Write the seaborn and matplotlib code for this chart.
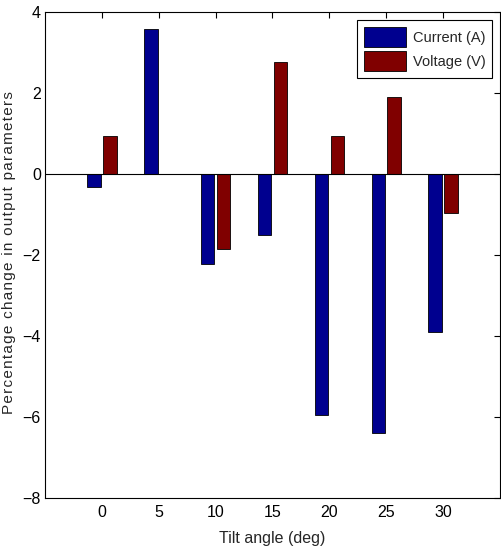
import numpy as np
import pandas as pd
import matplotlib
matplotlib.use("Agg")
import matplotlib.pyplot as plt
import seaborn as sns
from matplotlib.patches import Patch

# ------------------------------
# Data
# ------------------------------
tilt_angles = [0, 5, 10, 15, 20, 25, 30]
current_change = [-0.31, 3.58, -2.21, -1.51, -5.96, -6.39, -3.90]
voltage_change = [0.95, 0.01, -1.86, 2.77, 0.95, 1.90, -0.95]
series_names = ["Current (A)", "Voltage (V)"]
series_colors = ["#00008f", "#800000"]

df = pd.DataFrame({
    "Tilt": tilt_angles * 2,
    "Change": current_change + voltage_change,
    "Series": [series_names[0]] * len(tilt_angles) + [series_names[1]] * len(tilt_angles),
})

sns.set_style("white")
plt.rcParams["font.family"] = ["Liberation Sans", "DejaVu Sans"]

fig = plt.figure(figsize=(5.01, 5.53), dpi=100)
ax = fig.add_axes([0.0898, 0.0995, 0.9082, 0.8785])

sns.barplot(data=df, x="Tilt", y="Change", hue="Series", native_scale=True,
            palette=series_colors, width=0.56, gap=0.15, saturation=1,
            edgecolor="black", linewidth=0.6, legend=False, ax=ax)

ax.axhline(0, color="black", linewidth=0.8, zorder=3)

ax.set_xlim(-5, 35)
ax.set_ylim(-8, 4)
ax.set_xticks(tilt_angles)
ax.set_yticks([-8, -6, -4, -2, 0, 2, 4])
ax.tick_params(direction="in", top=True, right=True, length=4, width=0.8,
               labelsize=11.5, colors="black")
ax.tick_params(axis="x", pad=5)
ax.tick_params(axis="y", pad=3)
for sp in ax.spines.values():
    sp.set_color("black")
    sp.set_linewidth(0.8)

# slightly spaced-out y label, as in the reference
ylab = "Percentage change in output parameters"
ylab = "\u200a".join(ylab)
ax.set_xlabel("Tilt angle (deg)", fontsize=11.5, labelpad=8)
ax.set_ylabel(ylab, fontsize=11)
ax.yaxis.set_label_coords(-0.064, 0.506)

handles = [Patch(facecolor=c, edgecolor="black", linewidth=0.6) for c in series_colors]
leg = ax.legend(handles, series_names, loc="upper right", fontsize=10.5,
                frameon=True, fancybox=False, framealpha=1, edgecolor="black",
                handlelength=2.9, handleheight=1.75, borderaxespad=0.55,
                labelspacing=0.3, handletextpad=0.45, borderpad=0.45)
leg.get_frame().set_linewidth(0.8)

plt.savefig("out.png", dpi=100)
